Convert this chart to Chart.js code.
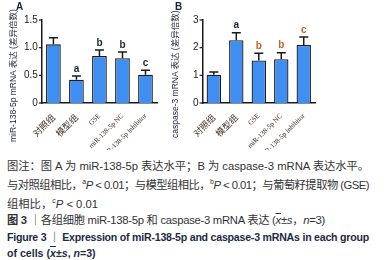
<!DOCTYPE html>
<html>
<head>
<meta charset="utf-8">
<script src="https://cdn.jsdelivr.net/npm/chart.js@4.4.0/dist/chart.umd.min.js"></script>
<style>
  body { margin: 0; background: #fff; width: 385px; height: 260px; overflow: hidden; position: relative; }
  .cv { position: absolute; z-index: 1; }
  .panel { position: absolute; z-index: 2; font: bold 10px "Liberation Sans", sans-serif; color: #1a2333; }
  .ytitle { position: absolute; z-index: 2; white-space: nowrap; font: 8.5px "Liberation Sans", "Noto Sans CJK SC", sans-serif; color: #1a2333;
            transform-origin: 0 0; transform: rotate(-90deg); }
  .cap { position: absolute; left: 7px; top: 158px; font-family: "Liberation Sans", "Noto Sans CJK SC", sans-serif; font-size: 11.3px; line-height: 16.3px; color: #333; }
  .cap div { white-space: nowrap; width: max-content; }
  .cap .en { font-weight: bold; color: #1d2a44; font-size: 10.6px; }
  .cap i { font-style: italic; }
  .cap sup { font-size: 7px; }
  .ov { text-decoration: overline; font-style: italic; }
</style>
</head>
<body>
<canvas id="chartA" class="cv" style="left:0px;top:0px" width="160" height="150"></canvas>
<canvas id="chartB" class="cv" style="left:170px;top:0px" width="148" height="150"></canvas>
<div class="panel" style="left:16px;top:1px">A</div>
<div class="panel" style="left:175px;top:1px">B</div>
<div class="ytitle" style="left:6px;top:142px">miR-138-5p mRNA 表达 (差异倍数)</div>
<div class="ytitle" style="left:168px;top:138px">caspase-3 mRNA 表达 (差异倍数)</div>
<div class="cap">
  <div class="j" data-w="362">图注：图 A 为 miR-138-5p 表达水平；B 为 caspase-3 mRNA 表达水平。</div>
  <div class="j" data-w="362">与对照组相比，<sup>a</sup><i>P</i> &lt; 0.01；与模型组相比，<sup>b</sup><i>P</i> &lt; 0.01；与葡萄籽提取物 (GSE)</div>
  <div>组相比，<sup>c</sup><i>P</i> &lt; 0.01</div>
  <div class="j" data-w="318"><b>图 3</b> ｜各组细胞 miR-138-5p 和 caspase-3 mRNA 表达 (<span class="ov">x</span>±<i>s</i>，<i>n</i>=3)</div>
  <div class="j en" data-w="362">Figure 3 ｜ Expression of miR-138-5p and caspase-3 mRNAs in each group</div>
  <div class="en">of cells (<span class="ov">x</span>±<i>s</i>, <i>n</i>=3)</div>
</div>
<script>
// groups (x axis)
const groups = ['对照组', '模型组', 'GSE', 'miR-138-5p NC', 'miR-138-5p inhibitor'];

// panel A: miR-138-5p
const mirMeans = [1.06, 0.42, 0.85, 0.81, 0.51];
const mirErrors = [0.12, 0.07, 0.11, 0.11, 0.08];
const mirLetters = ['', 'a', 'b', 'b', 'c'];
const mirTicks = [0, 0.5, 1.0, 1.5];

// panel B: caspase-3
const caspMeans = [1.02, 2.27, 1.54, 1.58, 2.10];
const caspErrors = [0.10, 0.27, 0.26, 0.24, 0.29];
const caspLetters = ['', 'a', 'b', 'b', 'c'];
const caspTicks = [0, 1, 2, 3];

const BAR_BLUE = '#3f8ff2';
const INK = '#1a1a1a';

// stretch the caption lines to the width they have in the original (justified)
document.querySelectorAll('.cap .j').forEach(el => {
    const target = +el.dataset.w;
    const n = el.textContent.trim().length;
    const extra = target - el.getBoundingClientRect().width;
    el.style.letterSpacing = (extra / n).toFixed(3) + 'px';
});

// upper error bars, significance letters, and the y ticks (drawn from the y scale)
function errBarPlugin(means, errors, letters, colors) {
    return {
        id: 'errBars',
        afterDraw(chart) {
            const ctx = chart.ctx;
            const y = chart.scales.y;
            const meta = chart.getDatasetMeta(0);
            ctx.save();
            ctx.strokeStyle = INK;
            ctx.lineWidth = 1.5;
            meta.data.forEach((bar, i) => {
                const base = y.getPixelForValue(means[i]);
                const top = y.getPixelForValue(means[i] + errors[i]);
                ctx.beginPath();
                ctx.moveTo(bar.x, base);
                ctx.lineTo(bar.x, top);
                ctx.moveTo(bar.x - 4.5, top);
                ctx.lineTo(bar.x + 4.5, top);
                ctx.stroke();
                if (letters[i]) {
                    ctx.fillStyle = colors[i];
                    ctx.font = 'bold 10px "Liberation Sans", sans-serif';
                    ctx.textAlign = 'center';
                    ctx.textBaseline = 'bottom';
                    ctx.fillText(letters[i], bar.x, top - 2);
                }
            });
            // y ticks
            ctx.lineWidth = 1.2;
            ctx.fillStyle = '#222';
            ctx.font = '10px "Liberation Sans", sans-serif';
            ctx.textAlign = 'right';
            ctx.textBaseline = 'middle';
            y.ticks.forEach(t => {
                const py = y.getPixelForValue(t.value);
                ctx.beginPath();
                ctx.moveTo(y.right - 3, py);
                ctx.lineTo(y.right, py);
                ctx.stroke();
                ctx.fillText(t.label, y.right - 4, py);
            });
            ctx.restore();
        }
    };
}

function makeChart(id, means, errors, letters, colors, ticks, padLeft) {
    const maxV = ticks[ticks.length - 1];
    const step = ticks[1] - ticks[0];
    const oneDecimal = step % 1 !== 0;
    return new Chart(document.getElementById(id), {
        type: 'bar',
        data: {
            labels: groups,
            datasets: [{
                data: means,
                backgroundColor: BAR_BLUE,
                borderColor: INK,
                borderWidth: 1.3,
                barPercentage: 0.64,
                categoryPercentage: 1.0
            }]
        },
        options: {
            responsive: false,
            animation: false,
            layout: { padding: { left: padLeft, right: 3, top: 20, bottom: 0 } },
            plugins: { legend: { display: false }, tooltip: { enabled: false } },
            scales: {
                x: {
                    grid: { display: false },
                    border: { display: true, color: INK, width: 1.5 },
                    ticks: {
                        autoSkip: false,
                        minRotation: 45,
                        maxRotation: 45,
                        padding: 1,
                        color: '#3a2a20',
                        font: (c) => c.index < 2
                            ? { family: '"Noto Sans CJK SC", sans-serif', size: 9 }
                            : { family: '"Liberation Serif", serif', size: 7 }
                    },
                    afterFit: (s) => { s.height = 47; }
                },
                y: {
                    min: 0,
                    max: maxV,
                    grid: { display: false },
                    border: { display: true, color: INK, width: 1.5 },
                    ticks: {
                        stepSize: step,
                        padding: 4,
                        color: 'rgba(0,0,0,0)',
                        font: { family: '"Liberation Sans", sans-serif', size: 10 },
                        callback: (v) => v === 0 ? '0' : (oneDecimal ? v.toFixed(1) : String(v))
                    }
                }
            }
        },
        plugins: [errBarPlugin(means, errors, letters, colors)]
    });
}

const dark = '#1a2333', orange = '#b8662a';
makeChart('chartA', mirMeans, mirErrors, mirLetters, [dark, dark, dark, dark, dark], mirTicks, 12);
makeChart('chartB', caspMeans, caspErrors, caspLetters, [dark, dark, orange, orange, orange], caspTicks, 11);
</script>
</body>
</html>
